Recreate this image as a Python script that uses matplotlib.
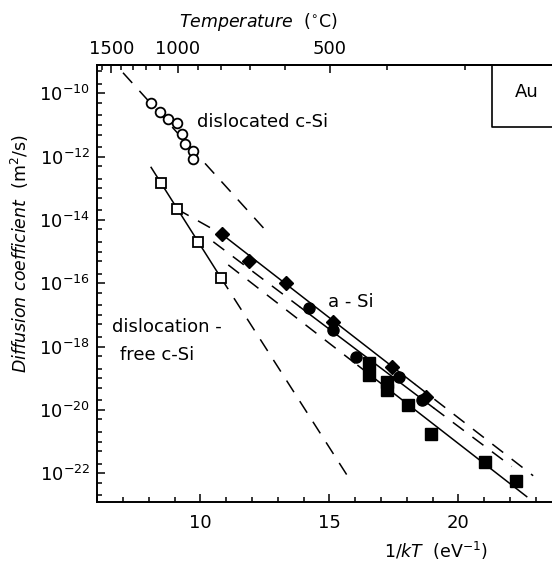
import numpy as np
import matplotlib
matplotlib.use("Agg")
import matplotlib.pyplot as plt
from matplotlib.ticker import FixedLocator, LogLocator, MultipleLocator, NullFormatter, FuncFormatter

K_B = 8.617e-5  # eV/K

# dislocated c-Si (open circles), x = 1/kT in eV^-1, log10 D in m^2/s
disl_x = [8.09, 8.43, 8.76, 9.08, 9.28, 9.40, 9.73, 9.73]
disl_logD = [-10.32, -10.60, -10.81, -10.95, -11.29, -11.60, -11.81, -12.08]

# dislocation-free c-Si (open squares)
free_x = [8.47, 9.08, 9.92, 10.79]
free_logD = [-12.84, -13.65, -14.71, -15.82]

# a-Si, three sample sets
asi_dia_x = [10.83, 11.90, 13.32, 15.13, 17.42, 18.74]
asi_dia_logD = [-14.45, -15.30, -16.00, -17.23, -18.63, -19.59]
asi_circ_x = [14.22, 15.13, 16.03, 17.71, 18.59]
asi_circ_logD = [-16.77, -17.47, -18.33, -18.97, -19.68]
asi_sq_x = [16.55, 16.55, 17.22, 17.22, 18.06, 18.93, 21.03, 22.22]
asi_sq_logD = [-18.53, -18.90, -19.11, -19.37, -19.84, -20.77, -21.66, -22.26]

# fitted / extrapolated lines (break points)
disl_fit_x = [7.00, 12.63]
disl_fit_logD = [-9.35, -14.42]
free_fit_x = [8.09, 10.79, 15.80]
free_fit_logD = [-12.34, -15.82, -22.21]
dia_fit_x = [9.08, 10.83, 18.32, 22.90]
dia_fit_logD = [-13.65, -14.45, -19.19, -22.08]
circ_fit_x = [10.50, 13.86, 19.03, 22.07]
circ_fit_logD = [-14.69, -16.75, -19.93, -21.79]
sq_fit_x = [11.08, 16.11, 22.65]
sq_fit_logD = [-15.42, -18.60, -22.74]

temp_major = [1500, 1000, 500]
temp_minor = [1600, 1400, 1300, 1200, 1100, 900, 800, 700, 600, 400, 300]


def D(vals):
    return 10.0 ** np.asarray(vals)


plt.rcParams["font.family"] = "DejaVu Sans"
plt.rcParams["mathtext.fontset"] = "dejavusans"

fig = plt.figure(figsize=(5.52, 5.63), dpi=100)
ax = fig.add_axes([0.1761, 0.1089, 0.8239, 0.7765])
ax.set_yscale("log")
ax.set_xlim(6, 23.63)
ax.set_ylim(10 ** -22.9, 10 ** -9.09)

dash = (0, (9, 7))
lw = 1.1
k = dict(color="black", lw=lw)

# lines
ax.plot(disl_fit_x, D(disl_fit_logD), ls=dash, **k)
ax.plot(free_fit_x[:2], D(free_fit_logD[:2]), ls="-", **k)
ax.plot(free_fit_x[1:], D(free_fit_logD[1:]), ls=dash, **k)
for fx, fy in [(dia_fit_x, dia_fit_logD), (circ_fit_x, circ_fit_logD)]:
    ax.plot(fx[:2], D(fy[:2]), ls=dash, **k)
    ax.plot(fx[1:3], D(fy[1:3]), ls="-", **k)
    ax.plot(fx[2:], D(fy[2:]), ls=dash, **k)
ax.plot(sq_fit_x[:2], D(sq_fit_logD[:2]), ls=dash, **k)
ax.plot(sq_fit_x[1:], D(sq_fit_logD[1:]), ls="-", **k)

# markers
ax.plot(disl_x, D(disl_logD), ls="none", marker="o", ms=7, mfc="white", mec="black", mew=1.3, zorder=5)
ax.plot(free_x, D(free_logD), ls="none", marker="s", ms=7, mfc="white", mec="black", mew=1.3, zorder=5)
ax.plot(asi_dia_x, D(asi_dia_logD), ls="none", marker="D", ms=7, color="black", zorder=5)
ax.plot(asi_circ_x, D(asi_circ_logD), ls="none", marker="o", ms=8, color="black", zorder=5)
ax.plot(asi_sq_x, D(asi_sq_logD), ls="none", marker="s", ms=8.5, color="black", zorder=5)

# Au box in the corner
ax.plot([21.29, 21.29, 30], [10 ** -9.09, 10 ** -11.055, 10 ** -11.055], color="black", lw=1.2)
ax.text(22.66, 10 ** -9.95, "Au", fontsize=13, ha="center", va="center")

# labels inside the plot
fs = 13
ax.text(9.86, 10 ** -10.90, "dislocated c-Si", fontsize=fs, ha="left", va="center")
ax.text(14.96, 10 ** -16.58, "a - Si", fontsize=fs, ha="left", va="center")
ax.text(6.56, 10 ** -17.37, "dislocation -", fontsize=fs, ha="left", va="center")
ax.text(6.88, 10 ** -18.26, "free c-Si", fontsize=fs, ha="left", va="center")

# axes styling
for s in ["left", "bottom", "top"]:
    ax.spines[s].set_linewidth(1.4)
ax.spines["right"].set_visible(False)

ax.xaxis.set_major_locator(FixedLocator([10, 15, 20]))
ax.xaxis.set_minor_locator(MultipleLocator(1))
ax.yaxis.set_major_locator(FixedLocator([10.0 ** e for e in range(-22, -9, 2)]))
ax.yaxis.set_minor_locator(LogLocator(base=10, subs=(1, 2, 5), numticks=60))
ax.yaxis.set_minor_formatter(NullFormatter())
ax.yaxis.set_major_formatter(FuncFormatter(lambda v, p: r"$10^{%d}$" % round(np.log10(v))))
ax.tick_params(which="both", direction="in", width=1.1, labelsize=13, top=False, right=False)
ax.tick_params(which="major", length=6)
ax.tick_params(which="minor", length=3.5)
ax.tick_params(axis="x", pad=9)
ax.tick_params(axis="y", pad=5)

fig.text(20 / 552, 1 - 254 / 563, r"$\mathit{Diffusion\ coefficient}$  (m$^2$/s)",
         fontsize=12.5, rotation=90, ha="center", va="center")
fig.text(436 / 552, 1 - 551 / 563, r"1/$\mathit{kT}$  (eV$^{-1}$)", fontsize=12.5, ha="center", va="center")


# top axis in degrees C
def to_temp(x):
    x = np.asarray(x, dtype=float)
    with np.errstate(divide="ignore"):
        return np.where(x > 0, 1.0 / (K_B * np.where(x > 0, x, 1)) - 273.15, 1e9)


def from_temp(t):
    t = np.asarray(t, dtype=float)
    return 1.0 / (K_B * (t + 273.15))


top = ax.secondary_xaxis("top", functions=(to_temp, from_temp))
top.xaxis.set_major_locator(FixedLocator(temp_major))
top.xaxis.set_minor_locator(FixedLocator(temp_minor))
top.xaxis.set_minor_formatter(NullFormatter())
top.tick_params(which="both", direction="in", width=1.1, labelsize=13, pad=5)
top.tick_params(which="major", length=6)
top.tick_params(which="minor", length=3.5)
top.spines["top"].set_linewidth(1.4)
fig.text(258 / 552, 1 - 22 / 563, r"$\mathit{Temperature}$  ($^{\circ}$C)", fontsize=12.5, ha="center", va="center")

fig.savefig("out.png", dpi=100)
